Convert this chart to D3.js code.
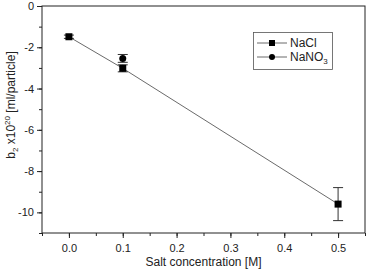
<!doctype html>
<html>
<head>
<meta charset="utf-8">
<title>b2 vs salt</title>
<style>
  body { margin: 0; background: #fff; }
  text { font-family: "Liberation Sans", Arial, sans-serif; }
</style>
<script src="https://cdn.jsdelivr.net/npm/d3@7"></script>
</head>
<body>
<svg width="366" height="270"></svg>
<script>
// values
var naclConc = [0.0, 0.1, 0.5],
    naclB2 = [-1.49, -3.02, -9.6],
    naclErr = [0.08, 0.17, 0.8];
var nano3Conc = [0.1],
    nano3B2 = [-2.54],
    nano3Err = [0.19];
var xTicks = [0.0, 0.1, 0.2, 0.3, 0.4, 0.5],
    yTicks = [0, -2, -4, -6, -8, -10];

var svg = d3.select("svg"),
    mLeft = 42, mRight = 365, mTop = 6, mBottom = 233;

var x = d3.scaleLinear().domain([-0.05, 0.55]).range([mLeft, mRight]);
var y = d3.scaleLinear().domain([-11, 0]).range([mBottom, mTop]);

var nacl = naclConc.map(function(c, i) { return { x: c, y: naclB2[i], e: naclErr[i] }; });
var nano3 = nano3Conc.map(function(c, i) { return { x: c, y: nano3B2[i], e: nano3Err[i] }; });

// frame
svg.append("rect")
    .attr("x", mLeft).attr("y", mTop)
    .attr("width", mRight - mLeft).attr("height", mBottom - mTop)
    .attr("fill", "none").attr("stroke", "#222").attr("stroke-width", 1);

// x axis with minor ticks
var xAxis = svg.append("g").attr("transform", "translate(0," + mBottom + ")");
xAxis.append("g").call(d3.axisBottom(x).tickValues(d3.range(-0.05, 0.551, 0.05)).tickSize(3).tickFormat(""));
xAxis.append("g").call(d3.axisBottom(x).tickValues(xTicks).tickSize(5).tickPadding(6).tickFormat(d3.format(".1f")));
xAxis.selectAll(".domain").remove();
xAxis.selectAll("line").attr("stroke", "#222");

var yAxis = svg.append("g").attr("transform", "translate(" + mLeft + ",0)");
yAxis.append("g").call(d3.axisLeft(y).tickValues(d3.range(-11, 0.01, 1)).tickSize(3).tickFormat(""));
yAxis.append("g").call(d3.axisLeft(y).tickValues(yTicks).tickSize(5).tickPadding(3).tickFormat(function(d) { return d; }));
yAxis.selectAll(".domain").remove();
yAxis.selectAll("line").attr("stroke", "#222");

svg.selectAll(".tick text").attr("font-size", 11).attr("fill", "#222").attr("font-family", null);

// axis titles
svg.append("text")
    .attr("x", (mLeft + mRight) / 2).attr("y", 265.5)
    .attr("text-anchor", "middle").attr("font-size", 12).attr("fill", "#222")
    .text("Salt concentration [M]");

var yl = svg.append("text")
    .attr("transform", "translate(15,105) rotate(-90)")
    .attr("text-anchor", "middle").attr("font-size", 12).attr("fill", "#222");
yl.append("tspan").text("b");
yl.append("tspan").attr("font-size", 8).attr("dy", 3).text("2");
yl.append("tspan").attr("dy", -3).text(" x10");
yl.append("tspan").attr("font-size", 8).attr("dy", -5).text("20");
yl.append("tspan").attr("dy", 5).text(" [ml/particle]");

// NaCl line
svg.append("path")
    .datum(nacl)
    .attr("fill", "none").attr("stroke", "#444").attr("stroke-width", 0.8)
    .attr("d", d3.line().x(function(d) { return x(d.x); }).y(function(d) { return y(d.y); }));

function errorBars(data) {
    var g = svg.append("g").attr("stroke", "#333").attr("stroke-width", 1);
    g.selectAll(".v").data(data).enter().append("line")
        .attr("x1", function(d) { return x(d.x); }).attr("x2", function(d) { return x(d.x); })
        .attr("y1", function(d) { return y(d.y - d.e); }).attr("y2", function(d) { return y(d.y + d.e); });
    [-1, 1].forEach(function(s) {
        g.selectAll(".c" + s).data(data).enter().append("line")
            .attr("x1", function(d) { return x(d.x) - 5; }).attr("x2", function(d) { return x(d.x) + 5; })
            .attr("y1", function(d) { return y(d.y + s * d.e); }).attr("y2", function(d) { return y(d.y + s * d.e); });
    });
}
errorBars(nacl);
errorBars(nano3);

svg.selectAll(".sq").data(nacl).enter().append("rect")
    .attr("x", function(d) { return x(d.x) - 3.5; }).attr("y", function(d) { return y(d.y) - 3.5; })
    .attr("width", 7).attr("height", 7).attr("fill", "#000");

svg.selectAll(".dot").data(nano3).enter().append("circle")
    .attr("cx", function(d) { return x(d.x); }).attr("cy", function(d) { return y(d.y); })
    .attr("r", 3.5).attr("fill", "#000");

// legend
var lg = svg.append("g");
lg.append("rect").attr("x", 253.5).attr("y", 32.5).attr("width", 79).attr("height", 37)
    .attr("fill", "#fff").attr("stroke", "#555").attr("stroke-width", 0.8);
[["NaCl", 43, "sq"], ["NaNO", 57, "dot"]].forEach(function(e) {
    lg.append("line").attr("x1", 257).attr("x2", 287).attr("y1", e[1]).attr("y2", e[1])
        .attr("stroke", "#444").attr("stroke-width", 0.8);
    if (e[2] === "sq") {
        lg.append("rect").attr("x", 269).attr("y", e[1] - 3).attr("width", 6).attr("height", 6).attr("fill", "#000");
    } else {
        lg.append("circle").attr("cx", 272).attr("cy", e[1]).attr("r", 3).attr("fill", "#000");
    }
    var t = lg.append("text").attr("x", 290).attr("y", e[1] + 4).attr("font-size", 12).attr("fill", "#222").text(e[0]);
    if (e[2] === "dot") t.append("tspan").attr("font-size", 8).attr("dy", 3).text("3");
});
</script>
</body>
</html>
